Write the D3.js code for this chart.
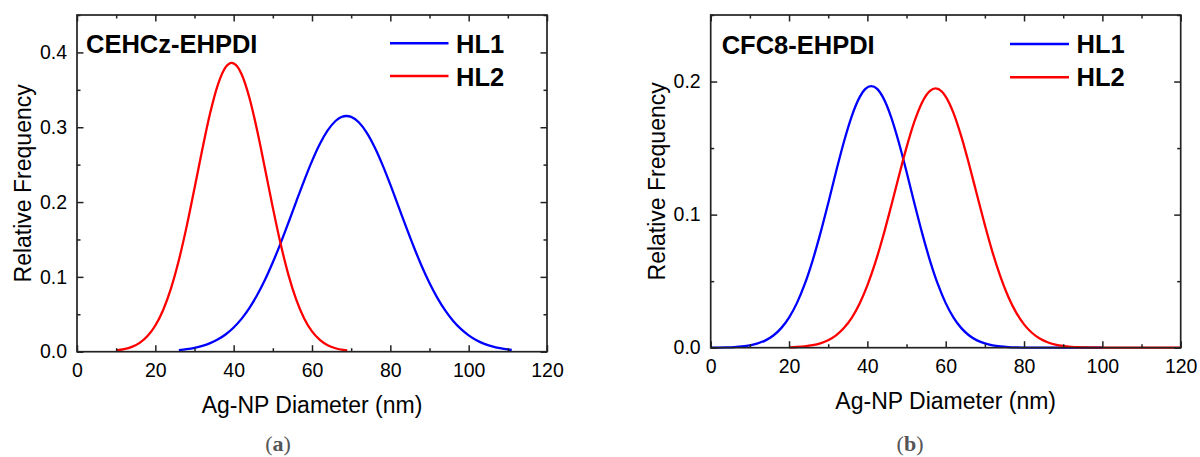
<!DOCTYPE html>
<html>
<head>
<meta charset="utf-8">
<script src="https://cdn.jsdelivr.net/npm/d3@7"></script>
<style>
  html, body { margin: 0; padding: 0; background: #fff; }
  svg { display: block; }
</style>
</head>
<body>
<svg id="chart" width="1200" height="457"></svg>
<script>
// ---------- Data ----------
// Panel (a): CEHCz-EHPDI
const aHL1_x = [26, 28, 30, 32, 34, 36, 38, 40, 42, 44, 46, 48, 50, 52, 54, 56, 58, 60, 62, 64, 66, 67.5, 68.8, 70, 72, 74, 76, 78, 80, 82, 84, 86, 88, 90, 92, 94, 96, 98, 100, 102, 104, 106, 108, 110, 111];
const aHL1_y = [0.0021, 0.0033, 0.0051, 0.0077, 0.0114, 0.0165, 0.0233, 0.0324, 0.0439, 0.0583, 0.0757, 0.0961, 0.1195, 0.1452, 0.1727, 0.2010, 0.2287, 0.2547, 0.2775, 0.2957, 0.3083, 0.3137, 0.3150, 0.3138, 0.3063, 0.2925, 0.2732, 0.2497, 0.2233, 0.1953, 0.1671, 0.1399, 0.1146, 0.0918, 0.0719, 0.0552, 0.0414, 0.0304, 0.0218, 0.0153, 0.0105, 0.0071, 0.0047, 0.0030, 0.0024];
const aHL2_x = [10, 12, 14, 16, 18, 20, 22, 24, 26, 28, 30, 32, 34, 36, 38, 39.5, 41, 42, 44, 46, 48, 50, 52, 54, 56, 58, 60, 62, 64, 66, 68, 69];
const aHL2_y = [0.0016, 0.0033, 0.0064, 0.0118, 0.0209, 0.0350, 0.0558, 0.0847, 0.1222, 0.1675, 0.2184, 0.2706, 0.3189, 0.3573, 0.3806, 0.3860, 0.3806, 0.3711, 0.3397, 0.2956, 0.2446, 0.1925, 0.1439, 0.1024, 0.0692, 0.0445, 0.0272, 0.0158, 0.0087, 0.0046, 0.0023, 0.0016];

// Panel (b): CFC8-EHPDI
const bHL1_x = [0, 2, 4, 6, 8, 10, 12, 14, 16, 18, 20, 22, 24, 26, 28, 30, 32, 34, 36, 38, 39.5, 41, 42.5, 44, 46, 48, 50, 52, 54, 56, 58, 60, 62, 64, 66, 68, 70, 72, 74, 76, 78, 80, 85, 90, 100];
const bHL1_y = [0.00005, 0.00011, 0.00024, 0.00049, 0.00095, 0.00177, 0.00319, 0.00552, 0.00919, 0.01471, 0.02264, 0.0335, 0.0477, 0.0653, 0.0859, 0.1086, 0.1322, 0.1546, 0.1739, 0.1881, 0.1945, 0.1966, 0.1945, 0.1881, 0.1739, 0.1546, 0.1322, 0.1086, 0.0859, 0.0653, 0.0477, 0.0335, 0.02264, 0.01471, 0.00919, 0.00552, 0.00319, 0.00177, 0.00095, 0.00049, 0.00024, 0.00011, 0.00002, 0, 0];
const bHL2_x = [20, 22, 24, 26, 28, 30, 32, 34, 36, 38, 40, 42, 44, 46, 48, 50, 52, 54, 56, 57.4, 59, 60, 62, 64, 66, 68, 70, 72, 74, 76, 78, 80, 82, 84, 86, 88, 90, 92, 94, 96, 100, 110, 120];
const bHL2_y = [0.00027, 0.00053, 0.00101, 0.00187, 0.00332, 0.00566, 0.00931, 0.01475, 0.0225, 0.0331, 0.0468, 0.0637, 0.0836, 0.1056, 0.1285, 0.1505, 0.1698, 0.1845, 0.1930, 0.1948, 0.1925, 0.1887, 0.1763, 0.1586, 0.1375, 0.1147, 0.0922, 0.0713, 0.0532, 0.0381, 0.0264, 0.01755, 0.01124, 0.00694, 0.00413, 0.00236, 0.0013, 0.00069, 0.00035, 0.00017, 0.00004, 0, 0];

// Axes / labels
const xTicks = [0, 20, 40, 60, 80, 100, 120];
const xMinorTicks = [10, 30, 50, 70, 90, 110];
const aYTicks = [0.0, 0.1, 0.2, 0.3, 0.4];
const aYMinorTicks = [0.05, 0.15, 0.25, 0.35, 0.45];
const bYTicks = [0.0, 0.1, 0.2];
const bYMinorTicks = [0.05, 0.15, 0.25];
const seriesNames = ["HL1", "HL2"];
const seriesColors = ["#0000ff", "#ff0000"];
const panelTitles = ["CEHCz-EHPDI", "CFC8-EHPDI"];
const panelCaptions = ["a", "b"];
const xTitle = "Ag-NP Diameter (nm)";
const yTitle = "Relative Frequency";

// ---------- Drawing ----------
const svg = d3.select("#chart");
const FONT = "'Liberation Sans', Arial, Helvetica, sans-serif";
const TICK_FS = 19.5, TITLE_FS = 23, BOLD_FS = 25.5;

const panels = [
  { left: 77, right: 547, top: 15, bottom: 351.7, yMax: 0.45, yTicks: aYTicks, yMinor: aYMinorTicks,
    series: [[aHL1_x, aHL1_y], [aHL2_x, aHL2_y]], title: panelTitles[0], caption: panelCaptions[0],
    titleX: 86, titleY: 53.3, legX1: 390, legX2: 448.5, legTextX: 456, legY: [43.3, 76], legTextY: [53.3, 86],
    yTitleX: 23, capX: 278 },
  { left: 710.7, right: 1180.7, top: 15, bottom: 347.7, yMax: 0.25, yTicks: bYTicks, yMinor: bYMinorTicks,
    series: [[bHL1_x, bHL1_y], [bHL2_x, bHL2_y]], title: panelTitles[1], caption: panelCaptions[1],
    titleX: 721.7, titleY: 54.3, legX1: 1010, legX2: 1069, legTextX: 1076.5, legY: [44, 77.3], legTextY: [53.3, 86],
    yTitleX: 656.6, capX: 910 }
];

const fmt = d3.format(".1f");

panels.forEach(p => {
  const x = d3.scaleLinear().domain([0, 120]).range([p.left, p.right]);
  const y = d3.scaleLinear().domain([0, p.yMax]).range([p.bottom, p.top]);
  const g = svg.append("g");

  const clipId = "clip" + p.caption;
  svg.append("clipPath").attr("id", clipId).append("rect")
    .attr("x", p.left).attr("y", p.top).attr("width", p.right - p.left).attr("height", p.bottom - p.top + 2);

  const line = d3.line().x(d => x(d[0])).y(d => y(d[1])).curve(d3.curveMonotoneX);
  p.series.forEach((s, i) => {
    const pts = s[0].map((v, k) => [v, s[1][k]]);
    g.append("path").datum(pts)
      .attr("d", line)
      .attr("fill", "none")
      .attr("stroke", seriesColors[i])
      .attr("stroke-width", 2.3)
      .attr("clip-path", `url(#${clipId})`);
  });

  function styleAxis(sel) {
    sel.select(".domain").remove();
    sel.selectAll(".tick line").attr("stroke", "#222").attr("stroke-width", 1.5);
    sel.selectAll("text").attr("fill", "#000").style("font-family", FONT).style("font-size", TICK_FS + "px");
  }
  const MAJ = 6.5, MIN = 3.5;

  g.append("g").attr("transform", `translate(0,${p.bottom})`)
    .call(d3.axisBottom(x).tickValues(xTicks).tickSize(-MAJ).tickPadding(11.5).tickFormat(d3.format("d")))
    .call(styleAxis);
  g.append("g").attr("transform", `translate(0,${p.bottom})`)
    .call(d3.axisBottom(x).tickValues(xMinorTicks).tickSize(-MIN).tickFormat(""))
    .call(styleAxis);
  g.append("g").attr("transform", `translate(0,${p.top})`)
    .call(d3.axisTop(x).tickValues(xTicks).tickSize(-MAJ).tickFormat(""))
    .call(styleAxis);
  g.append("g").attr("transform", `translate(0,${p.top})`)
    .call(d3.axisTop(x).tickValues(xMinorTicks).tickSize(-MIN).tickFormat(""))
    .call(styleAxis);

  g.append("g").attr("transform", `translate(${p.left},0)`)
    .call(d3.axisLeft(y).tickValues(p.yTicks).tickSize(-MAJ).tickPadding(10).tickFormat(fmt))
    .call(styleAxis);
  g.append("g").attr("transform", `translate(${p.left},0)`)
    .call(d3.axisLeft(y).tickValues(p.yMinor).tickSize(-MIN).tickFormat(""))
    .call(styleAxis);
  g.append("g").attr("transform", `translate(${p.right},0)`)
    .call(d3.axisRight(y).tickValues(p.yTicks).tickSize(-MAJ).tickFormat(""))
    .call(styleAxis);
  g.append("g").attr("transform", `translate(${p.right},0)`)
    .call(d3.axisRight(y).tickValues(p.yMinor).tickSize(-MIN).tickFormat(""))
    .call(styleAxis);

  g.append("rect")
    .attr("x", p.left).attr("y", p.top)
    .attr("width", p.right - p.left).attr("height", p.bottom - p.top)
    .attr("fill", "none").attr("stroke", "#222").attr("stroke-width", 1.7);

  g.append("text")
    .attr("x", (p.left + p.right) / 2).attr("y", p.bottom + 61.5)
    .attr("text-anchor", "middle")
    .style("font-family", FONT).style("font-size", TITLE_FS + "px")
    .text(xTitle);
  g.append("text")
    .attr("transform", `translate(${p.yTitleX},${(p.top + p.bottom) / 2}) rotate(-90)`)
    .attr("text-anchor", "middle").attr("dy", "0.35em")
    .style("font-family", FONT).style("font-size", TITLE_FS + "px")
    .text(yTitle);

  g.append("text")
    .attr("x", p.titleX).attr("y", p.titleY)
    .style("font-family", FONT).style("font-size", BOLD_FS + "px").style("font-weight", "bold")
    .text(p.title);

  seriesNames.forEach((name, i) => {
    g.append("line")
      .attr("x1", p.legX1).attr("x2", p.legX2)
      .attr("y1", p.legY[i]).attr("y2", p.legY[i])
      .attr("stroke", seriesColors[i]).attr("stroke-width", 2.5);
    g.append("text")
      .attr("x", p.legTextX).attr("y", p.legTextY[i])
      .style("font-family", FONT).style("font-size", BOLD_FS + "px").style("font-weight", "bold")
      .text(name);
  });

  const cap = g.append("text")
    .attr("x", p.capX).attr("y", 451)
    .attr("text-anchor", "middle")
    .style("font-family", "'Liberation Serif', 'DejaVu Serif', serif")
    .style("font-size", "22px").attr("fill", "#555");
  cap.append("tspan").text("(");
  cap.append("tspan").style("font-weight", "bold").text(p.caption);
  cap.append("tspan").text(")");
});
</script>
</body>
</html>
